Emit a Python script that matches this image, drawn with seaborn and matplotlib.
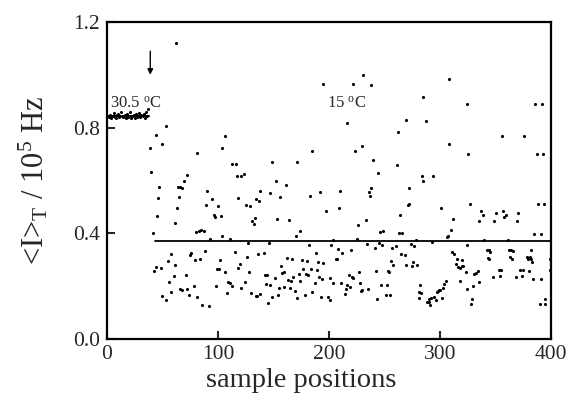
import numpy as np
import pandas as pd
import matplotlib
matplotlib.use('Agg')
import matplotlib.pyplot as plt
import seaborn as sns

# 30.5 C: one reading per sample position before the quench
warm_pos = np.arange(1, 38)
warm_val = [0.845, 0.842, 0.850, 0.838, 0.846, 0.855, 0.841, 0.836, 0.848, 0.852,
            0.840, 0.844, 0.858, 0.839, 0.843, 0.847, 0.835, 0.851, 0.842, 0.846,
            0.860, 0.838, 0.844, 0.849, 0.837, 0.853, 0.841, 0.845, 0.856, 0.840,
            0.847, 0.843, 0.852, 0.838, 0.858, 0.846, 0.870]

# 15 C: scattered readings (position, intensity)
cold_a = [(62, 1.119), (53, 0.807), (44, 0.774), (50, 0.740), (39, 0.723), (40, 0.633),
          (47, 0.577), (64, 0.577), (66, 0.577), (46, 0.535), (65, 0.538), (63, 0.495),
          (45, 0.466), (61, 0.439), (41, 0.402), (58, 0.321), (55, 0.294), (61, 0.279),
          (44, 0.273), (49, 0.268), (42, 0.256), (60, 0.239), (56, 0.216), (66, 0.189),
          (58, 0.178), (50, 0.163), (53, 0.146)]
cold_b = [(106, 0.768), (104, 0.723), (81, 0.706), (113, 0.662), (116, 0.662), (72, 0.622),
          (117, 0.617), (121, 0.617), (123, 0.625), (69, 0.598), (68, 0.573), (90, 0.561),
          (95, 0.532), (118, 0.534), (134, 0.532), (89, 0.508), (100, 0.504), (125, 0.508),
          (129, 0.505), (96, 0.468), (97, 0.462), (103, 0.466), (133, 0.458), (131, 0.447),
          (132, 0.437), (80, 0.405), (83, 0.409), (85, 0.414), (87, 0.410), (93, 0.380),
          (104, 0.389), (111, 0.379), (127, 0.364), (76, 0.326), (75, 0.317), (88, 0.332),
          (79, 0.300), (84, 0.304), (115, 0.330), (126, 0.311), (102, 0.298), (120, 0.283),
          (118, 0.269), (99, 0.265), (101, 0.265), (106, 0.253), (128, 0.254), (71, 0.241),
          (109, 0.215), (111, 0.211), (113, 0.199), (124, 0.216), (78, 0.199), (98, 0.199),
          (121, 0.193), (68, 0.187), (72, 0.188), (108, 0.174), (130, 0.176), (134, 0.163),
          (74, 0.168), (81, 0.159), (86, 0.129), (92, 0.124)]
cold_c = [(195, 0.965), (185, 0.710), (149, 0.670), (171, 0.670), (152, 0.597), (161, 0.582),
          (138, 0.559), (147, 0.553), (137, 0.523), (156, 0.539), (183, 0.540), (192, 0.558),
          (197, 0.485), (153, 0.453), (164, 0.449), (174, 0.409), (170, 0.390), (146, 0.362),
          (182, 0.355), (202, 0.357), (136, 0.321), (141, 0.326), (188, 0.326), (162, 0.306),
          (167, 0.304), (176, 0.299), (180, 0.294), (190, 0.292), (195, 0.287), (157, 0.275),
          (184, 0.265), (189, 0.263), (177, 0.264), (159, 0.254), (158, 0.251), (173, 0.247),
          (179, 0.247), (181, 0.242), (142, 0.241), (144, 0.241), (168, 0.236), (191, 0.234),
          (194, 0.226), (201, 0.231), (151, 0.231), (163, 0.222), (166, 0.221), (174, 0.218),
          (187, 0.213), (143, 0.208), (147, 0.203), (155, 0.194), (159, 0.196), (165, 0.192),
          (169, 0.181), (138, 0.172), (135, 0.162), (185, 0.178), (154, 0.165), (178, 0.165),
          (149, 0.158), (171, 0.157), (193, 0.158), (199, 0.159), (201, 0.149), (145, 0.138)]
cold_d = [(231, 0.999), (222, 0.965), (238, 0.961), (269, 0.830), (216, 0.819), (262, 0.785),
          (230, 0.731), (223, 0.711), (240, 0.679), (261, 0.660), (244, 0.629), (238, 0.572),
          (236, 0.556), (237, 0.542), (210, 0.561), (209, 0.497), (264, 0.471), (233, 0.449),
          (226, 0.432), (246, 0.404), (249, 0.408), (263, 0.401), (266, 0.401), (225, 0.380),
          (204, 0.374), (234, 0.360), (245, 0.362), (248, 0.357), (208, 0.341), (241, 0.343),
          (260, 0.352), (257, 0.343), (212, 0.327), (220, 0.336), (265, 0.323), (268, 0.317),
          (206, 0.302), (207, 0.304), (256, 0.297), (258, 0.282), (269, 0.282), (242, 0.256),
          (253, 0.259), (227, 0.254), (254, 0.253), (218, 0.241), (221, 0.235), (222, 0.232),
          (204, 0.212), (211, 0.213), (228, 0.213), (216, 0.203), (219, 0.197), (247, 0.203),
          (252, 0.203), (215, 0.188), (214, 0.172), (235, 0.191), (230, 0.186), (229, 0.181),
          (251, 0.165), (255, 0.165), (243, 0.153)]
cold_e = [(308, 0.984), (285, 0.915), (324, 0.888), (287, 0.824), (308, 0.740), (325, 0.701),
          (284, 0.616), (285, 0.597), (294, 0.617), (272, 0.573), (272, 0.510), (271, 0.506),
          (327, 0.513), (301, 0.495), (337, 0.485), (335, 0.447), (312, 0.456), (310, 0.414),
          (306, 0.385), (307, 0.389), (278, 0.375), (293, 0.366), (324, 0.357), (274, 0.361),
          (277, 0.354), (311, 0.330), (313, 0.321), (315, 0.304), (320, 0.301), (276, 0.292),
          (275, 0.275), (279, 0.280), (314, 0.283), (316, 0.273), (318, 0.269), (320, 0.278),
          (321, 0.275), (323, 0.255), (334, 0.259), (332, 0.249), (331, 0.246), (305, 0.220),
          (304, 0.208), (318, 0.220), (335, 0.215), (282, 0.205), (330, 0.201), (303, 0.193),
          (300, 0.187), (299, 0.186), (298, 0.182), (297, 0.178), (324, 0.188), (281, 0.178),
          (283, 0.173), (295, 0.158), (296, 0.149), (302, 0.155), (292, 0.155), (290, 0.150),
          (281, 0.155), (329, 0.150), (288, 0.140), (290, 0.140), (291, 0.130), (328, 0.133)]
cold_f = [(386, 0.888), (392, 0.888), (356, 0.768), (376, 0.768), (387, 0.701), (393, 0.701),
          (388, 0.513), (394, 0.513), (350, 0.477), (357, 0.485), (370, 0.477), (339, 0.468),
          (359, 0.471), (358, 0.462), (349, 0.447), (369, 0.447), (385, 0.396), (391, 0.396),
          (340, 0.374), (361, 0.374), (342, 0.337), (344, 0.337), (345, 0.330), (362, 0.337),
          (364, 0.337), (366, 0.335), (382, 0.337), (343, 0.308), (344, 0.304), (363, 0.311),
          (365, 0.304), (378, 0.311), (379, 0.304), (381, 0.311), (382, 0.304), (383, 0.292),
          (400, 0.311), (399, 0.304), (353, 0.260), (355, 0.263), (354, 0.239), (348, 0.236),
          (372, 0.260), (375, 0.263), (380, 0.256), (374, 0.239), (368, 0.235), (399, 0.260),
          (384, 0.226), (391, 0.226), (395, 0.153), (390, 0.134), (395, 0.134)]

warm_mean = 0.843
cold_mean = 0.371
quench_at = 39

sns.set_style('ticks')
plt.rcParams['font.family'] = ['Liberation Serif', 'DejaVu Serif']
plt.rcParams['mathtext.fontset'] = 'custom'
plt.rcParams['mathtext.rm'] = 'Liberation Serif'
plt.rcParams['mathtext.it'] = 'Liberation Serif:italic'

cold = pd.DataFrame(cold_a + cold_b + cold_c + cold_d + cold_e + cold_f,
                    columns=['pos', 'val'])
warm = pd.DataFrame({'pos': warm_pos, 'val': warm_val})

fig = plt.figure(figsize=(5.74, 4.16), dpi=100)
ax = fig.add_axes([0.1864, 0.185, 0.7736, 0.762])

sns.scatterplot(data=warm, x='pos', y='val', ax=ax, color='black', s=5, linewidth=0)
sns.scatterplot(data=cold, x='pos', y='val', ax=ax, color='black', s=5, linewidth=0)
ax.plot([0, 38], [warm_mean, warm_mean], color='black', lw=1.4)
ax.plot([43, 400], [cold_mean, cold_mean], color='black', lw=1.3)

ax.annotate('', xy=(quench_at, 0.99), xytext=(quench_at, 1.10),
            arrowprops=dict(arrowstyle='-|>', color='black', lw=1.0, mutation_scale=8))
ax.text(3, 0.878, r'30.5 $^{\rm o}$C', fontsize=12)
ax.text(198, 0.878, r'15 $^{\rm o}$C', fontsize=12)

ax.set_xlim(0, 400)
ax.set_ylim(0, 1.2)
ax.set_xticks([0, 100, 200, 300, 400])
ax.set_yticks([0.0, 0.4, 0.8, 1.2])
ax.set_yticklabels(['0.0', '0.4', '0.8', '1.2'])
ax.tick_params(direction='in', length=6, width=1.5, labelsize=15.5,
               top=False, right=False)
ax.tick_params(axis='y', pad=5)
ax.tick_params(axis='x', pad=4)
for sp in ax.spines.values():
    sp.set_linewidth(1.6)
    sp.set_color('black')

ax.set_xlabel('sample positions', fontsize=20.5)
ax.set_ylabel(r'<I>$_{\rm T}$ / 10$^{5}$ Hz', fontsize=22)
ax.xaxis.set_label_coords(0.437, -0.09)
ax.yaxis.set_label_coords(-0.128, 0.5)

fig.savefig('out.png', dpi=100)
